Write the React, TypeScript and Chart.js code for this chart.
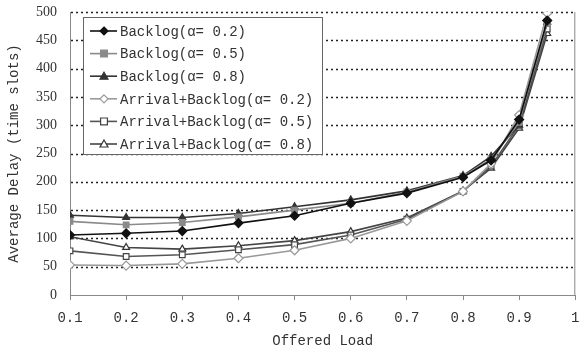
import React, { useEffect, useRef } from 'react';
import { Chart, registerables } from 'chart.js';
Chart.register(...registerables);

const offeredLoad = [0.1, 0.2, 0.3, 0.4, 0.5, 0.6, 0.7, 0.8, 0.85, 0.9, 0.95];
const backlog02 = [106, 109, 113, 127, 140, 162, 180, 208, 238, 310, 485];
const backlog05 = [130, 124, 128, 138, 150, 162, 182, 210, 240, 305, 480];
const backlog08 = [141, 137, 137, 144, 156, 168, 184, 211, 245, 300, 482];
const arrBacklog02 = [53, 52, 55, 65, 79, 100, 131, 183, 232, 318, 498];
const arrBacklog05 = [78, 68, 71, 80, 89, 106, 134, 183, 228, 300, 470];
const arrBacklog08 = [103, 84, 81, 87, 96, 112, 136, 184, 224, 295, 462];
const seriesNames = [
  'Backlog(α= 0.2)',
  'Backlog(α= 0.5)',
  'Backlog(α= 0.8)',
  'Arrival+Backlog(α= 0.2)',
  'Arrival+Backlog(α= 0.5)',
  'Arrival+Backlog(α= 0.8)',
];
const xTickValues = [0.1, 0.2, 0.3, 0.4, 0.5, 0.6, 0.7, 0.8, 0.9, 1];
const xTickLabels = ['0.1', '0.2', '0.3', '0.4', '0.5', '0.6', '0.7', '0.8', '0.9', '1'];
const yGridValues = [50, 100, 150, 200, 250, 300, 350, 400, 450, 500];

const styles = [
  { line: '#111', stroke: '#111', fill: '#111', shape: 'diamond' },
  { line: '#8a8a8a', stroke: '#8a8a8a', fill: '#8a8a8a', shape: 'square' },
  { line: '#333', stroke: '#333', fill: '#333', shape: 'triangle' },
  { line: '#999', stroke: '#999', fill: '#fff', shape: 'diamond' },
  { line: '#555', stroke: '#444', fill: '#fff', shape: 'square' },
  { line: '#444', stroke: '#333', fill: '#fff', shape: 'triangle' },
];
const pointStyleMap: any = { diamond: 'rectRot', square: 'rect', triangle: 'triangle' };

function drawMarker(ctx: CanvasRenderingContext2D, shape: string, x: number, y: number, r: number, fill: string, stroke: string) {
  ctx.save();
  ctx.beginPath();
  if (shape === 'diamond') {
    ctx.moveTo(x, y - r); ctx.lineTo(x + r, y); ctx.lineTo(x, y + r); ctx.lineTo(x - r, y); ctx.closePath();
  } else if (shape === 'square') {
    const s = r * 0.85;
    ctx.rect(x - s, y - s, 2 * s, 2 * s);
  } else {
    ctx.moveTo(x, y - r); ctx.lineTo(x + r, y + r * 0.75); ctx.lineTo(x - r, y + r * 0.75); ctx.closePath();
  }
  ctx.fillStyle = fill; ctx.fill();
  ctx.strokeStyle = stroke; ctx.lineWidth = 1.2; ctx.stroke();
  ctx.restore();
}

const framePlugin = {
  id: 'frameAndLegend',
  beforeDatasetsDraw(chart: any) {
    const { ctx, chartArea } = chart;
    const y = chart.scales.y;
    ctx.save();
    ctx.strokeStyle = '#222';
    ctx.lineWidth = 1.5;
    ctx.setLineDash([2, 3]);
    yGridValues.forEach((v) => {
      const py = Math.round(y.getPixelForValue(v)) + 0.5;
      ctx.beginPath();
      ctx.moveTo(chartArea.left + 1, py);
      ctx.lineTo(chartArea.right, py);
      ctx.stroke();
    });
    ctx.setLineDash([]);
    ctx.strokeStyle = '#888';
    ctx.lineWidth = 1;
    ctx.beginPath();
    ctx.moveTo(chartArea.right - 0.5, chartArea.top);
    ctx.lineTo(chartArea.right - 0.5, chartArea.bottom);
    ctx.stroke();
    ctx.restore();
  },
  afterDatasetsDraw(chart: any) {
    const { ctx, chartArea } = chart;
    const left = chartArea.left + 13;
    const top = chartArea.top + 5;
    const w = 239, h = 137;
    ctx.save();
    ctx.fillStyle = '#fff';
    ctx.fillRect(left, top, w, h);
    ctx.strokeStyle = '#666';
    ctx.lineWidth = 1;
    ctx.strokeRect(left + 0.5, top + 0.5, w, h);
    ctx.font = '14px "Liberation Mono"';
    ctx.textBaseline = 'middle';
    seriesNames.forEach((name, i) => {
      const st = styles[i];
      const y = top + 14 + i * 22.6;
      ctx.beginPath();
      ctx.moveTo(left + 7, y); ctx.lineTo(left + 34, y);
      ctx.strokeStyle = st.line; ctx.lineWidth = 1.6; ctx.stroke();
      drawMarker(ctx, st.shape, left + 21, y, 4, st.fill, st.stroke);
      ctx.fillStyle = '#333';
      ctx.fillText(name, left + 37, y + 1);
    });
    ctx.restore();
  },
};

export default function App() {
  const ref = useRef<HTMLCanvasElement>(null);
  useEffect(() => {
    document.body.style.margin = '0';
    const all = [backlog02, backlog05, backlog08, arrBacklog02, arrBacklog05, arrBacklog08];
    const chart = new Chart(ref.current!, {
      type: 'line',
      data: {
        datasets: all.map((vals, i) => ({
          label: seriesNames[i],
          data: offeredLoad.map((x, j) => ({ x, y: vals[j] })),
          borderColor: styles[i].line,
          backgroundColor: styles[i].fill,
          pointBorderColor: styles[i].stroke,
          pointBackgroundColor: styles[i].fill,
          pointStyle: pointStyleMap[styles[i].shape],
          pointRadius: styles[i].shape === 'diamond' ? 4.5 : 4,
          pointBorderWidth: 1.2,
          borderWidth: 1.6,
          tension: 0,
        })),
      },
      options: {
        responsive: false,
        animation: false,
        layout: { padding: { top: 12, right: 2, left: 0, bottom: 0 } },
        plugins: { legend: { display: false }, tooltip: { enabled: false } },
        scales: {
          x: {
            type: 'linear',
            min: 0.1,
            max: 1,
            afterBuildTicks: (s: any) => { s.ticks = xTickValues.map((v) => ({ value: v })); },
            afterFit: (s: any) => { s.height = 56; s.paddingLeft = 0; s.paddingRight = 0; },
            ticks: {
              padding: 10,
              maxRotation: 0,
              color: '#333',
              font: { family: '"Liberation Mono"', size: 14 },
              callback: (_v: any, i: number) => xTickLabels[i],
            },
            grid: { display: true, drawOnChartArea: false, drawTicks: true, tickLength: 5, color: '#888' },
            border: { display: true, color: '#888', width: 1 },
            title: {
              display: true,
              text: 'Offered Load',
              color: '#333',
              font: { family: '"Liberation Mono"', size: 14 },
              padding: { top: 0, bottom: 1 },
            },
          },
          y: {
            min: 0,
            max: 500,
            afterFit: (s: any) => { s.width = 70; s.paddingTop = 0; s.paddingBottom = 0; },
            ticks: {
              stepSize: 50,
              padding: 13,
              color: '#333',
              font: { family: '"Liberation Serif"', size: 14 },
            },
            grid: { display: false, drawTicks: false },
            border: { display: true, color: '#888', width: 1 },
            title: {
              display: true,
              text: 'Average Delay (time slots)',
              color: '#333',
              font: { family: '"Liberation Mono"', size: 14 },
              padding: { top: 6, bottom: 0 },
            },
          },
        },
      },
      plugins: [framePlugin],
    } as any);
    return () => chart.destroy();
  }, []);
  return (
    <div style={{ width: 581, height: 351 }}>
      <canvas ref={ref} width={581} height={351} style={{ display: 'block' }} />
    </div>
  );
}
